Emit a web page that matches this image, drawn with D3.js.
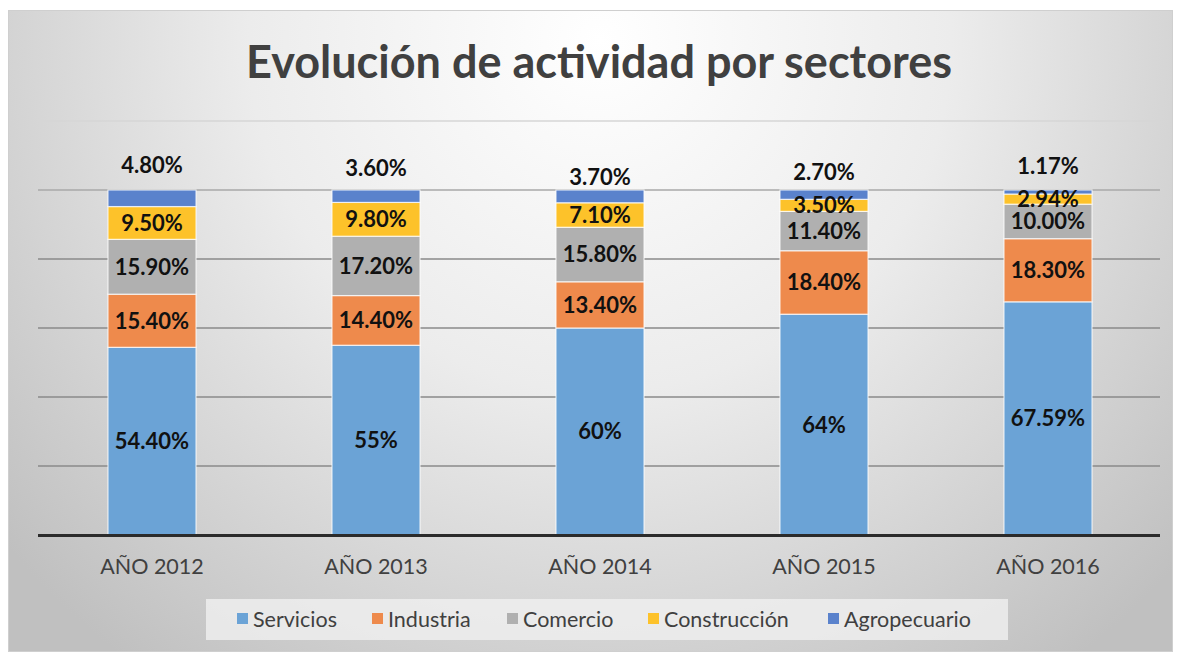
<!DOCTYPE html>
<html>
<head>
<meta charset="utf-8">
<script src="https://d3js.org/d3.v7.min.js"></script>
<style>
  html, body { margin: 0; padding: 0; background: #ffffff; }
  svg { display: block; }
</style>
</head>
<body>
<svg id="chart" width="1179" height="652"></svg>
<script>
const years = ["AÑO 2012", "AÑO 2013", "AÑO 2014", "AÑO 2015", "AÑO 2016"];
const seriesNames = ["Servicios", "Industria", "Comercio", "Construcción", "Agropecuario"];
const servicios    = [54.40, 55, 60, 64, 67.59];
const industria    = [15.40, 14.40, 13.40, 18.40, 18.30];
const comercio     = [15.90, 17.20, 15.80, 11.40, 10.00];
const construccion = [9.50, 9.80, 7.10, 3.50, 2.94];
const agropecuario = [4.80, 3.60, 3.70, 2.70, 1.17];
const labels = [
  ["54.40%", "55%", "60%", "64%", "67.59%"],
  ["15.40%", "14.40%", "13.40%", "18.40%", "18.30%"],
  ["15.90%", "17.20%", "15.80%", "11.40%", "10.00%"],
  ["9.50%", "9.80%", "7.10%", "3.50%", "2.94%"],
  ["4.80%", "3.60%", "3.70%", "2.70%", "1.17%"]
];
const yTicks = [0, 20, 40, 60, 80, 100, 120];
const title = "Evolución de actividad por sectores";

(function () {
const colors = ["#6ba3d6", "#ee8a4c", "#b0b0b0", "#fdc22a", "#5a82cc"];
const seriesValues = [servicios, industria, comercio, construccion, agropecuario];
const topLabelOffset = [25, 22, 13, 18, 24];

const svg = d3.select("#chart");

// background
const defs = svg.append("defs");
const grad = defs.append("radialGradient")
  .attr("id", "bg").attr("gradientUnits", "userSpaceOnUse")
  .attr("cx", 600).attr("cy", 40).attr("r", 780)
  .attr("fx", 600).attr("fy", 40);
grad.append("stop").attr("offset", "0%").attr("stop-color", "#ffffff");
grad.append("stop").attr("offset", "45%").attr("stop-color", "#ececec");
grad.append("stop").attr("offset", "100%").attr("stop-color", "#c0c0c0");

svg.append("rect").attr("x", 8.5).attr("y", 10.5).attr("width", 1164).attr("height", 641)
  .attr("fill", "url(#bg)").attr("stroke", "#cfcfcf").attr("stroke-width", 1);

const pLeft = 40, pRight = 1160, pTop = 121, pBottom = 535;

const x = d3.scaleBand().domain(years).range([pLeft, pRight]).paddingInner(0.607).paddingOuter(0.3035);
const y = d3.scaleLinear().domain([0, 120]).range([pBottom, pTop]);

// gridlines
svg.append("g").selectAll("line").data(yTicks.filter(t => t > 0)).join("line")
  .attr("x1", pLeft - 2).attr("x2", pRight)
  .attr("y1", d => y(d)).attr("y2", d => y(d))
  .attr("stroke", (d) => d === 120 ? "#d6d6d6" : (d === 100 ? "#a8a8a8" : "#8a8a8a"))
  .attr("stroke-width", 1.6);

// stack
const table = years.map((yr, i) => {
  const o = { year: yr };
  seriesNames.forEach((s, k) => { o[s] = seriesValues[k][i]; });
  return o;
});
const stacked = d3.stack().keys(seriesNames)(table);

const gBars = svg.append("g");
stacked.forEach((layer, k) => {
  gBars.append("g").attr("fill", colors[k]).selectAll("rect").data(layer).join("rect")
    .attr("x", d => x(d.data.year))
    .attr("width", x.bandwidth())
    .attr("y", d => y(d[1]))
    .attr("height", d => y(d[0]) - y(d[1]))
    .attr("stroke", "rgba(255,255,255,0.75)")
    .attr("stroke-width", 1.2);
});

// x axis line
svg.append("line").attr("x1", pLeft - 2).attr("x2", pRight).attr("y1", pBottom + 0.5).attr("y2", pBottom + 0.5)
  .attr("stroke", "#2b2b2b").attr("stroke-width", 3);

// data labels
const gLab = svg.append("g")
  .attr("font-family", "Lato, 'Open Sans', sans-serif")
  .attr("font-weight", "bold").attr("font-size", 22).attr("fill", "#111")
  .attr("text-anchor", "middle");
stacked.forEach((layer, k) => {
  layer.forEach((d, i) => {
    const cx = x(d.data.year) + x.bandwidth() / 2;
    let cy;
    if (k === 4) cy = y(d[1]) - topLabelOffset[i];
    else cy = (y(d[0]) + y(d[1])) / 2;
    gLab.append("text").attr("x", cx).attr("y", cy).attr("dy", "0.36em").text(labels[k][i]);
  });
});

// x axis labels
svg.append("g").selectAll("text").data(years).join("text")
  .attr("x", d => x(d) + x.bandwidth() / 2).attr("y", 566).attr("dy", "0.36em")
  .attr("text-anchor", "middle")
  .attr("font-family", "Lato, 'Open Sans', sans-serif").attr("font-size", 21.5).attr("fill", "#404040")
  .text(d => d);

// title
svg.append("text").attr("x", 599).attr("y", 62).attr("dy", "0.36em").attr("text-anchor", "middle")
  .attr("font-family", "Lato, 'Open Sans', sans-serif").attr("font-weight", "bold")
  .attr("font-size", 45).attr("fill", "#404040").text(title);

// legend
const legend = svg.append("g");
legend.append("rect").attr("x", 206).attr("y", 599).attr("width", 802).attr("height", 41)
  .attr("fill", "#f0f0f0").attr("opacity", 0.8);
const legendX = [237, 372, 507, 648, 828];
seriesNames.forEach((s, k) => {
  legend.append("rect").attr("x", legendX[k]).attr("y", 613).attr("width", 11).attr("height", 11).attr("fill", colors[k]);
  legend.append("text").attr("x", legendX[k] + 16).attr("y", 619).attr("dy", "0.36em")
    .attr("font-family", "Lato, 'Open Sans', sans-serif").attr("font-size", 21.5).attr("fill", "#404040").text(s);
});
})();
</script>
</body>
</html>
